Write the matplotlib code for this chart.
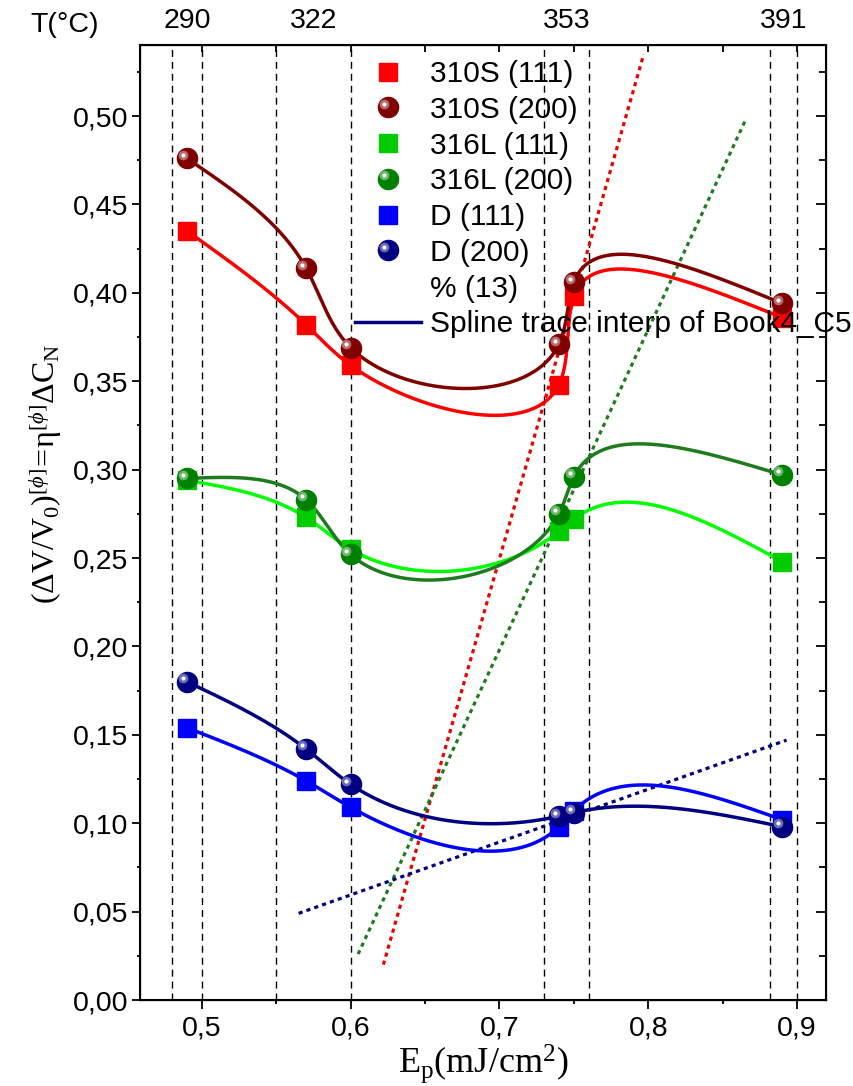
import numpy as np
import matplotlib
matplotlib.use('Agg')
import matplotlib.pyplot as plt
from matplotlib import transforms
from matplotlib.lines import Line2D
from matplotlib.legend_handler import HandlerBase
from matplotlib.ticker import FixedLocator, MultipleLocator, FuncFormatter, NullFormatter
from matplotlib.colors import to_rgb

plt.rcParams['font.family'] = ['Liberation Sans', 'DejaVu Sans']
plt.rcParams['mathtext.fontset'] = 'custom'
plt.rcParams['mathtext.rm'] = 'Liberation Serif'
plt.rcParams['mathtext.it'] = 'Liberation Serif:italic'
plt.rcParams['mathtext.bf'] = 'Liberation Serif:bold'

# pulse energy E_p (mJ/cm2)
ep = [0.49, 0.57, 0.60, 0.74, 0.75, 0.89]

s310_111 = [0.435, 0.382, 0.359, 0.348, 0.398, 0.386]
s310_200 = [0.476, 0.414, 0.369, 0.371, 0.406, 0.394]
l316_111 = [0.294, 0.273, 0.255, 0.265, 0.272, 0.248]
l316_200 = [0.295, 0.283, 0.252, 0.275, 0.296, 0.297]
d_111 = [0.154, 0.124, 0.109, 0.098, 0.107, 0.102]
d_200 = [0.180, 0.142, 0.122, 0.104, 0.106, 0.098]

# straight dotted guides (end points)
fit310_x = [0.622, 0.797]
fit310_y = [0.020, 0.535]
fit316_x = [0.605, 0.865]
fit316_y = [0.026, 0.497]
fitd_x = [0.565, 0.893]
fitd_y = [0.049, 0.147]

# vertical dashed markers and the temperature scale on top
guide_x = [0.48, 0.50, 0.55, 0.60, 0.73, 0.76, 0.882, 0.90]
temp_pos = [0.49, 0.575, 0.745, 0.891]
temp_lab = ['290', '322', '353', '391']

XLIM = (0.4584, 0.9195)
YLIM = (0, 0.54)
# pixels per data unit, used to build the spline in screen proportions
SX, SY = 1483.0, 1768.0


def natural_coeffs(t, y):
    m = len(t)
    h = np.diff(t)
    A = np.zeros((m, m))
    r = np.zeros(m)
    A[0, 0] = A[-1, -1] = 1.0
    for i in range(1, m - 1):
        A[i, i - 1] = h[i - 1]
        A[i, i] = 2 * (h[i - 1] + h[i])
        A[i, i + 1] = h[i]
        r[i] = 3 * ((y[i + 1] - y[i]) / h[i] - (y[i] - y[i - 1]) / h[i - 1])
    c = np.linalg.solve(A, r)
    b = (y[1:] - y[:-1]) / h - h * (2 * c[:-1] + c[1:]) / 3
    d = (c[1:] - c[:-1]) / (3 * h)
    return b, c, d


def eval_spline(t, y, coeffs, ts):
    b, c, d = coeffs
    idx = np.clip(np.searchsorted(t, ts) - 1, 0, len(t) - 2)
    dt = ts - t[idx]
    return y[idx] + b[idx] * dt + c[idx] * dt ** 2 + d[idx] * dt ** 3


def param_spline(x, y, n=600):
    # parametric cubic spline, chord length measured on screen
    x = np.asarray(x, float)
    y = np.asarray(y, float)
    seg = np.hypot(np.diff(x) * SX, np.diff(y) * SY)
    t = np.concatenate([[0], np.cumsum(seg)])
    ts = np.linspace(0, t[-1], n)
    xs = eval_spline(t, x, natural_coeffs(t, x), ts)
    ys = eval_spline(t, y, natural_coeffs(t, y), ts)
    return xs, ys


def lighten(c, f):
    c = np.array(to_rgb(c))
    return tuple(c + (1 - c) * f)


fig = plt.figure(figsize=(8.54, 10.86), dpi=100)
ax = fig.add_axes([140 / 854, 86 / 1086, 686 / 854, 954.7 / 1086])

for gx in guide_x:
    ax.axvline(gx, color='k', lw=1.0, ls=(0, (5, 3.6)), zorder=1)

ax.plot(fit310_x, fit310_y, color='#EE0000', lw=2.3, ls=(0, (1.3, 1.3)), zorder=2)
ax.plot(fit316_x, fit316_y, color='#1E7B1E', lw=2.3, ls=(0, (1.3, 1.3)), zorder=2)
ax.plot(fitd_x, fitd_y, color='#000080', lw=2.3, ls=(0, (1.3, 1.3)), zorder=2)

ball_off = transforms.ScaledTranslation(-3 / 72, 2.5 / 72, fig.dpi_scale_trans)


def draw_balls(y, color):
    ax.plot(ep, y, 'o', ms=14.5, mfc=color, mec=color, zorder=5)
    ax.plot(ep, y, 'o', ms=7, mfc=lighten(color, 0.5), mec='none', alpha=0.85,
            transform=ax.transData + ball_off, zorder=6)
    ax.plot(ep, y, 'o', ms=3, mfc='white', mec='none',
            transform=ax.transData + ball_off, zorder=7)


series = [
    (s310_111, '#FF0000', '#FF0000', 's'),
    (s310_200, '#800000', '#800000', 'o'),
    (l316_111, '#00FF00', '#00CC00', 's'),
    (l316_200, '#1E7B1E', '#008000', 'o'),
    (d_111, '#0000FF', '#0000FF', 's'),
    (d_200, '#000080', '#000080', 'o'),
]
for y, lc, mc, mk in series:
    xs, ys = param_spline(ep, y)
    ax.plot(xs, ys, color=lc, lw=2.5, zorder=3)
    if mk == 's':
        ax.plot(ep, y, 's', ms=13.5, mfc=mc, mec=mc, zorder=4)
    else:
        draw_balls(y, mc)

ax.set_xlim(*XLIM)
ax.set_ylim(*YLIM)
ax.xaxis.set_major_locator(MultipleLocator(0.1))
ax.xaxis.set_minor_locator(MultipleLocator(0.05))
ax.yaxis.set_major_locator(MultipleLocator(0.05))
ax.yaxis.set_minor_locator(MultipleLocator(0.025))
ax.xaxis.set_major_formatter(FuncFormatter(lambda v, p: f'{v:.1f}'.replace('.', ',')))
ax.yaxis.set_major_formatter(FuncFormatter(lambda v, p: f'{v:.2f}'.replace('.', ',')))
ax.tick_params(which='both', direction='out', labelsize=20.5, width=1.3)
ax.tick_params(axis='x', which='major', length=6.5, pad=5)
ax.tick_params(axis='x', which='minor', length=3)
ax.tick_params(axis='y', which='major', length=6, pad=2.7)
ax.tick_params(axis='y', which='minor', length=2.5)
for sp in ax.spines.values():
    sp.set_linewidth(1.5)

# top: inward ticks plus temperature labels
top = ax.twiny()
top.set_xlim(*XLIM)
top.set_xticks(temp_pos, temp_lab)
top.xaxis.set_minor_locator(FixedLocator(np.arange(0.5, 0.91, 0.05)))
top.tick_params(axis='x', which='major', length=0, labelsize=20.5, pad=8)
top.tick_params(axis='x', which='minor', direction='in', length=5, width=1.3)
top.yaxis.set_visible(False)

# right: inward ticks, no labels
right = ax.twinx()
right.set_ylim(*YLIM)
right.yaxis.set_major_locator(MultipleLocator(0.05))
right.yaxis.set_minor_locator(MultipleLocator(0.025))
right.yaxis.set_major_formatter(NullFormatter())
right.tick_params(axis='y', which='both', direction='in', width=1.3)
right.tick_params(axis='y', which='major', length=7)
right.tick_params(axis='y', which='minor', length=5)

fig.text(65 / 854, 1 - 25 / 1086, 'T(°C)', ha='center', va='center', fontsize=20.5)

ax.set_xlabel(r'$\mathrm{E_p(mJ/cm^2)}$', fontsize=26, labelpad=0)
ax.set_ylabel(r'$(\Delta\mathrm{V/V_0})^{[\phi]}\!=\!\mathrm{\eta}^{[\phi]}\Delta\mathrm{C_N}$', fontsize=23)
ax.yaxis.set_label_coords(-0.111, 0.551)


class BallHandler(HandlerBase):
    def create_artists(self, legend, orig, xd, yd, width, height, fontsize, trans):
        cx, cy = width / 2 - xd, height / 2 - yd
        col = orig.get_markerfacecolor()
        base = Line2D([cx], [cy], marker='o', ms=14.5, mfc=col, mec=col, ls='none', transform=trans)
        halo = Line2D([cx - 3], [cy + 2.5], marker='o', ms=7, mfc=lighten(col, 0.5), mec='none',
                      alpha=0.85, ls='none', transform=trans)
        spot = Line2D([cx - 3], [cy + 2.5], marker='o', ms=3, mfc='white', mec='none',
                      ls='none', transform=trans)
        return [base, halo, spot]


handles = [
    Line2D([], [], marker='s', ms=13.5, mfc='#FF0000', mec='#FF0000', ls='none'),
    Line2D([], [], marker='o', mfc='#800000', ls='none'),
    Line2D([], [], marker='s', ms=13.5, mfc='#00CC00', mec='#00CC00', ls='none'),
    Line2D([], [], marker='o', mfc='#008000', ls='none'),
    Line2D([], [], marker='s', ms=13.5, mfc='#0000FF', mec='#0000FF', ls='none'),
    Line2D([], [], marker='o', mfc='#000080', ls='none'),
    Line2D([], [], ls='none'),
    Line2D([], [], color='#000080', lw=2.5),
]
labels = ['310S (111)', '310S (200)', '316L (111)', '316L (200)', 'D (111)', 'D (200)',
          '% (13)', 'Spline trace interp of Book4_C53']
hmap = {h: BallHandler() for h in (handles[1], handles[3], handles[5])}
leg = ax.legend(handles, labels, handler_map=hmap, loc='upper left',
                bbox_to_anchor=(355 / 854, 1 - 60 / 1086), bbox_transform=fig.transFigure,
                frameon=False, fontsize=21.5, borderpad=0, borderaxespad=0,
                handlelength=2.2, handletextpad=0.3, labelspacing=0.26)
leg.set_zorder(10)

fig.savefig('out.png', dpi=100)
